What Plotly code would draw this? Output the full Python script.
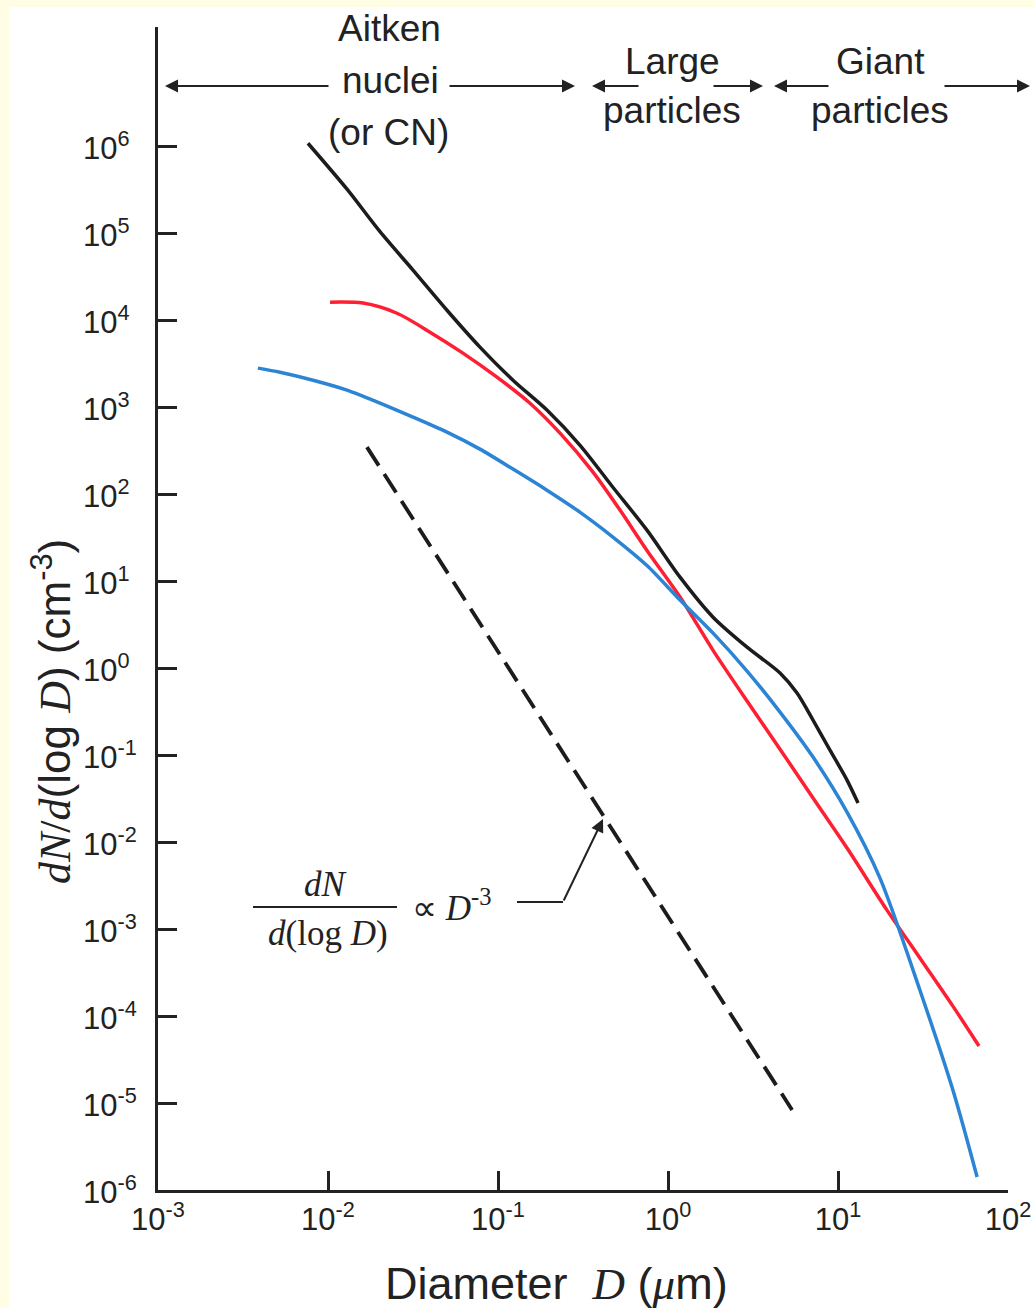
import plotly.graph_objects as go

# ---------------- data ----------------
black_D = [0.00762, 0.01294, 0.02023, 0.03162, 0.0501, 0.0783, 0.1225, 0.194, 0.303, 0.474,
           0.752, 1.177, 1.841, 2.917, 4.56, 5.74, 7.13, 8.97, 11.30, 13.12]
black_N = [1.08e6, 3.20e5, 1.04e5, 3.76e4, 1.30e4, 4.90e3, 2.04e3, 925, 366, 120,
           38.5, 11.1, 3.85, 1.74, 0.877, 0.516, 0.252, 0.114, 0.0516, 0.0281]

red_D = [0.01028, 0.01607, 0.02547, 0.0398, 0.0622, 0.0986, 0.1542, 0.2317, 0.3622, 0.522,
         0.752, 1.177, 1.841, 2.917, 4.56, 7.13, 11.30, 19.41, 30.3, 47.4, 67.5]
red_N = [1.61e4, 1.57e4, 1.20e4, 7.28e3, 4.18e3, 2.21e3, 1.11e3, 502, 179, 65.5,
         22.5, 6.55, 1.60, 0.418, 0.117, 0.0321, 8.53e-3, 1.65e-3, 4.65e-4, 1.30e-4, 4.52e-5]

blue_D = [0.00387, 0.00522, 0.00817, 0.01294, 0.02023, 0.03162, 0.0501, 0.0783, 0.1225,
          0.194, 0.303, 0.474, 0.752, 1.177, 1.841, 2.917, 4.56, 7.13, 11.30, 17.66,
          30.3, 47.4, 65.8]
blue_N = [2.81e3, 2.52e3, 2.04e3, 1.57e3, 1.11e3, 767, 516, 329, 194,
          111, 62.1, 32.1, 15.1, 6.05, 2.52, 0.925, 0.312, 0.0948, 0.0221, 3.85e-3,
          1.99e-4, 1.41e-5, 1.41e-6]

slope_D = [0.01694, 5.37]
slope_N = [347, 8.32e-6]

x_tickvals = [1e-3, 1e-2, 1e-1, 1e0, 1e1, 1e2]
x_ticktext = ["10<sup>-3</sup>", "10<sup>-2</sup>", "10<sup>-1</sup>",
              "10<sup>0</sup>", "10<sup>1</sup>", "10<sup>2</sup>"]
y_exponents = [-6, -5, -4, -3, -2, -1, 0, 1, 2, 3, 4, 5, 6]
y_ticktext = ["10<sup>-6</sup>", "10<sup>-5</sup>", "10<sup>-4</sup>", "10<sup>-3</sup>",
              "10<sup>-2</sup>", "10<sup>-1</sup>", "10<sup>0</sup>", "10<sup>1</sup>",
              "10<sup>2</sup>", "10<sup>3</sup>", "10<sup>4</sup>", "10<sup>5</sup>",
              "10<sup>6</sup>"]
y_tickvals = [10.0 ** e for e in y_exponents]

# ---------------- layout geometry ----------------
W, H = 1035, 1308
ML, MR, MT, MB = 158, 27, 27, 118
PW, PH = W - ML - MR, H - MT - MB

def px(x):
    return (x - ML) / PW

def py(y):
    return (H - MB - y) / PH

SANS = "Liberation Sans, Arial, Helvetica, sans-serif"
SERIF = "Liberation Serif, Times New Roman, serif"
INK = "#222222"

fig = go.Figure()
fig.add_trace(go.Scatter(x=black_D, y=black_N, mode="lines",
                         line=dict(color="#1c1c1c", width=3.5, shape="spline", smoothing=0.8), hoverinfo="skip"))
fig.add_trace(go.Scatter(x=red_D, y=red_N, mode="lines",
                         line=dict(color="#ff1f33", width=3.5, shape="spline", smoothing=0.8), hoverinfo="skip"))
fig.add_trace(go.Scatter(x=blue_D, y=blue_N, mode="lines",
                         line=dict(color="#2b84d4", width=3.5, shape="spline", smoothing=0.8), hoverinfo="skip"))
fig.add_trace(go.Scatter(x=slope_D, y=slope_N, mode="lines",
                         line=dict(color="#1c1c1c", width=3.8, dash="22px,10px"), hoverinfo="skip"))

annotations = []
shapes = []

# white page over a cream frame (top and left edges)
shapes.append(dict(type="rect", xref="paper", yref="paper", layer="below",
                   x0=px(9), x1=px(W + 20), y0=py(H + 20), y1=py(7),
                   fillcolor="white", line=dict(width=0)))

def text(x, y, s, size=37, family=SANS, xanchor="center"):
    annotations.append(dict(x=px(x), y=py(y), xref="paper", yref="paper", text=s,
                            showarrow=False, xanchor=xanchor, yanchor="middle",
                            font=dict(family=family, size=size, color=INK)))

def arrow(tx, ty, hx, hy):
    annotations.append(dict(x=px(hx), y=py(hy), xref="paper", yref="paper", text="",
                            showarrow=True, ax=tx - hx, ay=ty - hy, axref="pixel", ayref="pixel",
                            arrowhead=2, arrowsize=1.3, arrowwidth=2, arrowcolor=INK))

# size-range labels at top
text(389, 29, "Aitken")
text(390, 80, "nuclei")
text(388, 133, "(or CN)")
text(672, 61, "Large")
text(672, 111, "particles")
text(880, 61, "Giant")
text(880, 111, "particles")
arrow(330, 86, 165, 86)
arrow(448, 86, 575, 86)
arrow(640, 86, 592, 86)
arrow(712, 86, 763, 86)
arrow(830, 86, 774, 86)
arrow(943, 86, 1030, 86)

# y tick labels (left aligned, as in the reference)
for e, t in zip(y_exponents, y_ticktext):
    annotations.append(dict(x=px(81), y=e, xref="paper", yref="y", text=t, showarrow=False,
                            xanchor="left", yanchor="middle",
                            font=dict(family=SANS, size=31, color=INK)))

# D^-3 annotation
text(325, 884, "<i>dN</i>", size=35, family=SERIF)
text(328, 933, "<i>d</i>(log <i>D</i>)", size=35, family=SERIF)
text(410, 905, "\u221d <i>D</i><sup>-3</sup>", size=35, family=SERIF, xanchor="left")
shapes.append(dict(type="line", xref="paper", yref="paper", x0=px(253), x1=px(397),
                   y0=py(907), y1=py(907), line=dict(color=INK, width=2)))
shapes.append(dict(type="line", xref="paper", yref="paper", x0=px(517), x1=px(563),
                   y0=py(902), y1=py(902), line=dict(color=INK, width=2)))
arrow(563, 902, 603, 819)

# axis titles
annotations.append(dict(x=px(52), y=py(712), xref="paper", yref="paper", showarrow=False,
                        textangle=-90, xanchor="center", yanchor="middle",
                        text=("<span style='font-family:Liberation Serif'><i>dN</i>/<i>d</i></span>(log "
                              "<span style='font-family:Liberation Serif'><i>D</i></span>) (cm<sup>-3</sup>)"),
                        font=dict(family=SANS, size=44, color=INK)))
annotations.append(dict(x=px(556), y=py(1283), xref="paper", yref="paper", showarrow=False,
                        xanchor="center", yanchor="middle",
                        text=("Diameter  <span style='font-family:Liberation Serif'><i>D</i></span> "
                              "(<span style='font-family:Liberation Serif'><i>\u03bc</i></span>m)"),
                        font=dict(family=SANS, size=45, color=INK)))

axis_common = dict(type="log", showgrid=False, zeroline=False, showline=True, automargin=False,
                   linecolor=INK, linewidth=3, ticks="inside", ticklen=19, tickwidth=3,
                   tickcolor=INK)

fig.update_layout(
    width=W, height=H,
    margin=dict(l=ML, r=MR, t=MT, b=MB, pad=0, autoexpand=False),
    paper_bgcolor="#fffde4",
    plot_bgcolor="white",
    showlegend=False,
    xaxis=dict(range=[-3, 2], tickvals=x_tickvals, ticktext=x_ticktext,
               tickfont=dict(family=SANS, size=31, color=INK), **axis_common),
    yaxis=dict(range=[-6, 7.37], tickvals=y_tickvals, showticklabels=False, **axis_common),
    annotations=annotations,
    shapes=shapes,
)

fig.write_html("out.html", config={"displayModeBar": False},
               post_script="document.body.style.margin='0px';")
